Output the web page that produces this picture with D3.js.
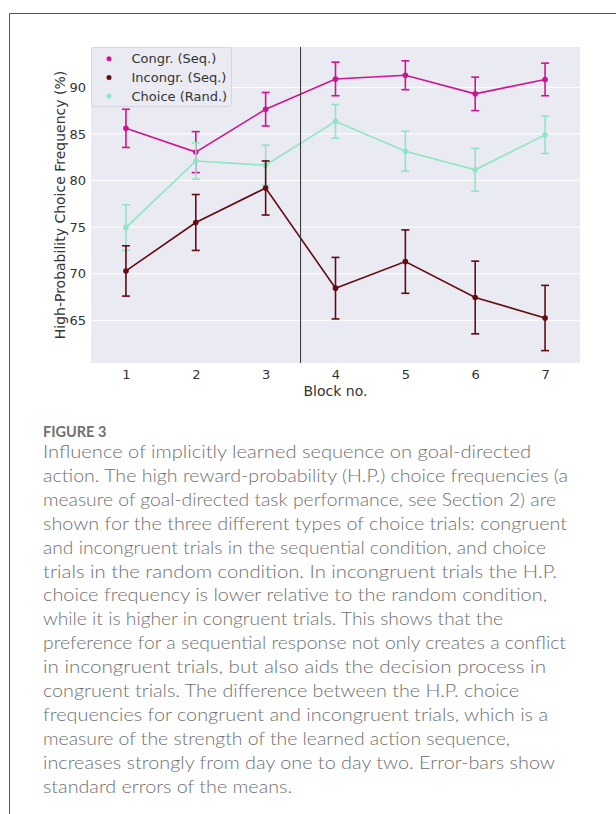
<!DOCTYPE html>
<html><head><meta charset="utf-8">
<script src="https://cdn.jsdelivr.net/npm/d3@7"></script>
<style>
html,body{margin:0;padding:0;background:#fff;}
svg{display:block;}
.cf{font-family:"DejaVu Sans",Verdana,sans-serif;}
.cap{font-family:Lato,"Open Sans",sans-serif;}
</style></head>
<body>
<svg id="chart" width="616" height="814"></svg>
<script>
// ---- data ----
const blocks = [1, 2, 3, 4, 5, 6, 7];
const seriesNames = ["Congr. (Seq.)", "Incongr. (Seq.)", "Choice (Rand.)"];
const congrMean = [85.6, 83.05, 87.65, 90.9, 91.3, 89.3, 90.85];
const congrErr = [2.05, 2.2, 1.8, 1.8, 1.55, 1.8, 1.75];
const incongrMean = [70.3, 75.5, 79.2, 68.45, 71.3, 67.45, 65.25];
const incongrErr = [2.7, 3.0, 2.9, 3.3, 3.4, 3.9, 3.5];
const choiceMean = [74.95, 82.1, 81.65, 86.35, 83.15, 81.15, 84.9];
const choiceErr = [2.45, 1.95, 2.15, 1.8, 2.15, 2.3, 2.0];
const yTicks = [65, 70, 75, 80, 85, 90];
const dividerAt = 3.5;
const captionTitle = "FIGURE 3";
const captionLines = [
 "Influence of implicitly learned sequence on goal-directed",
 "action. The high reward-probability (H.P.) choice frequencies (a",
 "measure of goal-directed task performance, see Section 2) are",
 "shown for the three different types of choice trials: congruent",
 "and incongruent trials in the sequential condition, and choice",
 "trials in the random condition. In incongruent trials the H.P.",
 "choice frequency is lower relative to the random condition,",
 "while it is higher in congruent trials. This shows that the",
 "preference for a sequential response not only creates a conflict",
 "in incongruent trials, but also aids the decision process in",
 "congruent trials. The difference between the H.P. choice",
 "frequencies for congruent and incongruent trials, which is a",
 "measure of the strength of the learned action sequence,",
 "increases strongly from day one to day two. Error-bars show",
 "standard errors of the means."
];
const captionWidths = [488, 525, 513, 524, 503, 514, 504, 460, 523, 503, 476, 505, 467, 512, 249];

// ---- layout ----
const svg = d3.select("#chart");
const plot = {left: 91, right: 580, top: 47, bottom: 363};
const colors = {"Congr. (Seq.)": "#cf1490", "Incongr. (Seq.)": "#640a12", "Choice (Rand.)": "#8ee6c4"};
const txt = "#333";

// frame
svg.append("path").attr("d", "M616,13.5 H9.5 V814").attr("fill", "none").attr("stroke", "#555").attr("stroke-width", 1);

const x = d3.scaleLinear().domain([0.5, 7.5]).range([plot.left, plot.right]);
const y = d3.scaleLinear().domain([60.42, 94.33]).range([plot.bottom, plot.top]);

svg.append("rect").attr("x", plot.left).attr("y", plot.top)
  .attr("width", plot.right - plot.left).attr("height", plot.bottom - plot.top)
  .attr("fill", "#eaeaf2");

// grid
svg.append("g").selectAll("line").data(yTicks).join("line")
  .attr("x1", plot.left).attr("x2", plot.right)
  .attr("y1", d => y(d)).attr("y2", d => y(d))
  .attr("stroke", "#fff").attr("stroke-width", 1);

// axes
const yAxis = svg.append("g").attr("transform", `translate(${plot.left},0)`)
  .call(d3.axisLeft(y).tickValues(yTicks).tickSize(0).tickPadding(5));
yAxis.select(".domain").remove();
yAxis.attr("font-family", null).attr("font-size", null);
yAxis.selectAll("text").attr("class", "cf").style("font-size", "13px").attr("fill", txt);

const xAxis = svg.append("g").attr("transform", `translate(0,${plot.bottom})`)
  .call(d3.axisBottom(x).tickValues(blocks).tickSize(0).tickPadding(7).tickFormat(d3.format("d")));
xAxis.select(".domain").remove();
xAxis.attr("font-family", null).attr("font-size", null);
xAxis.selectAll("text").attr("class", "cf").style("font-size", "13px").attr("fill", txt);

svg.append("text").attr("class", "cf").attr("x", (plot.left + plot.right) / 2).attr("y", 396)
  .attr("text-anchor", "middle").style("font-size", "14px").attr("fill", txt)
  .text("Block no.");
svg.append("text").attr("class", "cf").attr("transform", `translate(65,${(plot.top + plot.bottom) / 2}) rotate(-90)`)
  .attr("text-anchor", "middle").style("font-size", "14px").attr("fill", txt)
  .text("High-Probability Choice Frequency (%)");

// series
const series = [
  {name: seriesNames[0], mean: congrMean, err: congrErr},
  {name: seriesNames[2], mean: choiceMean, err: choiceErr},
  {name: seriesNames[1], mean: incongrMean, err: incongrErr}
];
const line = d3.line().x(d => x(d.b)).y(d => y(d.m));
series.forEach(s => {
  const pts = blocks.map((b, i) => ({b, m: s.mean[i], e: s.err[i]}));
  const g = svg.append("g");
  const c = colors[s.name];
  g.append("path").datum(pts).attr("d", line).attr("fill", "none").attr("stroke", c).attr("stroke-width", 1.6);
  g.selectAll(".eb").data(pts).join("line")
    .attr("x1", d => x(d.b)).attr("x2", d => x(d.b))
    .attr("y1", d => y(d.m - d.e)).attr("y2", d => y(d.m + d.e))
    .attr("stroke", c).attr("stroke-width", 1.6);
  ["lo", "hi"].forEach(k => {
    g.selectAll(".cap" + k).data(pts).join("line")
      .attr("x1", d => x(d.b) - 4).attr("x2", d => x(d.b) + 4)
      .attr("y1", d => y(k === "lo" ? d.m - d.e : d.m + d.e))
      .attr("y2", d => y(k === "lo" ? d.m - d.e : d.m + d.e))
      .attr("stroke", c).attr("stroke-width", 1.6);
  });
  g.selectAll("circle").data(pts).join("circle")
    .attr("cx", d => x(d.b)).attr("cy", d => y(d.m)).attr("r", 2.8).attr("fill", c);
});

// divider
svg.append("line").attr("x1", x(dividerAt)).attr("x2", x(dividerAt))
  .attr("y1", plot.top).attr("y2", plot.bottom).attr("stroke", "#333").attr("stroke-width", 1);

// legend
const lg = svg.append("g");
lg.append("rect").attr("x", 91.5).attr("y", 47.5).attr("width", 140).attr("height", 59).attr("rx", 2)
  .attr("fill", "#eaeaf2").attr("fill-opacity", 0.85).attr("stroke", "#d6d6de").attr("stroke-width", 1);
seriesNames.forEach((n, i) => {
  const yy = 58.7 + i * 18.7;
  lg.append("circle").attr("cx", 109).attr("cy", yy).attr("r", 2.5).attr("fill", colors[n]);
  lg.append("text").attr("class", "cf").attr("x", 131.5).attr("y", yy + 4.7)
    .style("font-size", "13px").attr("fill", txt).text(n);
});

// caption
svg.append("text").attr("class", "cap").attr("x", 43).attr("y", 436.5).attr("font-weight", 700)
  .style("font-size", "14.5px").attr("fill", "#707070").text(captionTitle);
svg.append("g").selectAll("text").data(captionLines).join("text").attr("class", "cap")
  .attr("x", 43).attr("y", (d, i) => 458 + i * 23.9)
  .attr("font-weight", 300).style("font-size", "17.5px").attr("fill", "#707070")
  .attr("textLength", (d, i) => captionWidths[i]).attr("lengthAdjust", "spacingAndGlyphs")
  .text(d => d);
</script>
</body></html>
